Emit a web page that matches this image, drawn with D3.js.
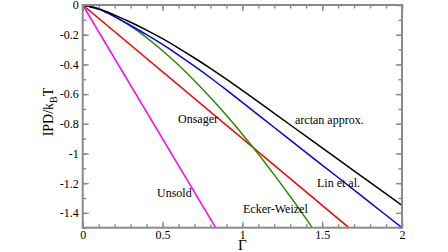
<!DOCTYPE html>
<html><head><meta charset="utf-8">
<script src="https://cdn.jsdelivr.net/npm/d3@7"></script>
<style>body{margin:0;background:#fff}svg{display:block}</style>
</head><body>
<svg id="c" width="448" height="252"></svg>
<script>
const gamma = [0, 0.1, 0.2, 0.3, 0.4, 0.5, 0.6, 0.7, 0.8, 0.9, 1.0, 1.2, 1.4, 1.6, 1.8, 2.0];
const arctanApprox = [0, -0.025, -0.068, -0.116, -0.169, -0.227, -0.29, -0.357, -0.427, -0.5, -0.575, -0.73, -0.885, -1.04, -1.195, -1.35];
const linEtAl = [0, -0.028, -0.078, -0.138, -0.2, -0.266, -0.337, -0.412, -0.49, -0.572, -0.656, -0.825, -0.994, -1.162, -1.331, -1.5];
const eckerGamma = [0, 0.1, 0.2, 0.3, 0.4, 0.5, 0.6, 0.7, 0.8, 0.9, 1.0, 1.1, 1.2, 1.3, 1.4, 1.44];
const eckerWeizel = [0, -0.028, -0.078, -0.143, -0.22, -0.308, -0.404, -0.51, -0.623, -0.743, -0.87, -1.003, -1.144, -1.29, -1.441, -1.503];
const onsagerGamma = [0, 1.667];
const onsager = [0, -1.5];
const unsoldGamma = [0, 0.833];
const unsold = [0, -1.5];
const xTicks = [0, 0.5, 1, 1.5, 2];
const xTickLabels = ["0", "0.5", "1", "1.5", "2"];
const yTicks = [0, -0.2, -0.4, -0.6, -0.8, -1, -1.2, -1.4];
const yTickLabels = ["0", "-0.2", "-0.4", "-0.6", "-0.8", "-1", "-1.2", "-1.4"];

const svg = d3.select("#c");
const L = 82.7, R = 402, T = 5, B = 227.7;
const x = d3.scaleLinear().domain([0, 2]).range([L, R]);
const y = d3.scaleLinear().domain([0, -1.5]).range([T, B]);
const font = "'Liberation Serif','Times New Roman',serif";

svg.append("defs").append("clipPath").attr("id", "clip")
  .append("rect").attr("x", L).attr("y", T).attr("width", R - L).attr("height", B - T);

const series = [
  {xs: unsoldGamma, ys: unsold, c: "#ff00ff"},
  {xs: onsagerGamma, ys: onsager, c: "#ff0000"},
  {xs: eckerGamma, ys: eckerWeizel, c: "#2f8a00"},
  {xs: gamma, ys: linEtAl, c: "#0000ff"},
  {xs: gamma, ys: arctanApprox, c: "#000000"}
];
const line = d3.line().curve(d3.curveMonotoneX);
const g = svg.append("g").attr("clip-path", "url(#clip)");
series.forEach(s => {
  g.append("path").attr("d", line(s.xs.map((v, i) => [x(v), y(s.ys[i])])))
    .attr("fill", "none").attr("stroke", s.c).attr("stroke-width", 1.5);
});

const xMinor = d3.range(0, 2.001, 0.1).map(v => +v.toFixed(2));
const yMinor = d3.range(0, -1.501, -0.1).map(v => +v.toFixed(2));
const ax = "#8a8a8a";
function styleAxis(sel) {
  sel.selectAll(".domain").remove();
  sel.selectAll("line").attr("stroke", ax).attr("stroke-width", 1.4);
  sel.selectAll("text").attr("font-family", font).attr("font-size", 12).attr("fill", "#000");
}
// minor ticks
[[d3.axisBottom(x).tickValues(xMinor), 0, B],[d3.axisTop(x).tickValues(xMinor), 0, T],
 [d3.axisLeft(y).tickValues(yMinor), L, 0],[d3.axisRight(y).tickValues(yMinor), R, 0]].forEach(([a, tx, ty]) => {
  svg.append("g").attr("transform", `translate(${tx},${ty})`).call(a.tickSize(-3.5).tickFormat("")).call(styleAxis);
});
// major ticks
svg.append("g").attr("transform", `translate(0,${B})`)
  .call(d3.axisBottom(x).tickValues(xTicks).tickSize(-6).tickPadding(3).tickFormat((d, i) => xTickLabels[i])).call(styleAxis);
svg.append("g").attr("transform", `translate(0,${T})`)
  .call(d3.axisTop(x).tickValues(xTicks).tickSize(-6).tickFormat("")).call(styleAxis);
svg.append("g").attr("transform", `translate(${L},0)`)
  .call(d3.axisLeft(y).tickValues(yTicks).tickSize(-6).tickPadding(4).tickFormat((d, i) => yTickLabels[i])).call(styleAxis);
svg.append("g").attr("transform", `translate(${R},0)`)
  .call(d3.axisRight(y).tickValues(yTicks).tickSize(-6).tickFormat("")).call(styleAxis);

// frame
svg.append("rect").attr("x", L).attr("y", T).attr("width", R - L).attr("height", B - T)
  .attr("fill", "none").attr("stroke", ax).attr("stroke-width", 2);

// axis titles
svg.append("text").attr("x", x(1)).attr("y", 250).attr("text-anchor", "middle")
  .attr("font-family", font).attr("font-size", 15).text("Γ");
const yl = svg.append("text").attr("transform", "translate(53,112) rotate(-90)").attr("text-anchor", "middle")
  .attr("font-family", font).attr("font-size", 14);
yl.append("tspan").text("IPD/k");
yl.append("tspan").attr("font-size", 10).attr("dy", 4).text("B");
yl.append("tspan").attr("dy", -4).text("T");

// curve labels
const labels = [
  {t: "Onsager", x: 178, y: 123},
  {t: "arctan approx.", x: 295, y: 124},
  {t: "Unsold", x: 157, y: 197},
  {t: "Lin et al.", x: 317, y: 187},
  {t: "Ecker-Weizel", x: 243, y: 213}
];
labels.forEach(l => svg.append("text").attr("x", l.x).attr("y", l.y)
  .attr("font-family", font).attr("font-size", 12).text(l.t));
</script>
</body></html>
